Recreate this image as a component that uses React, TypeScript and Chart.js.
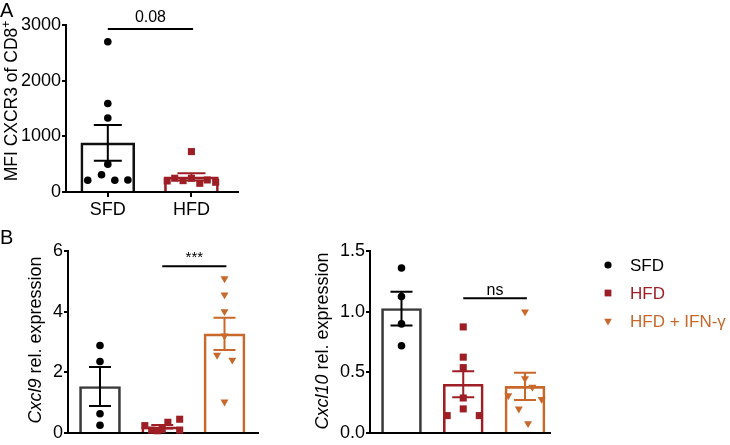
import React, { useEffect, useRef } from 'react';
import { Chart, registerables } from 'chart.js';

Chart.register(...registerables);

const W = 730;
const H = 445;
const FONT = "'Liberation Sans', Arial, Helvetica, sans-serif";

const C_SFD = '#000000';
const C_HFD = '#9d1f25';
const C_IFN = '#c8682b';

// ---------------- data ----------------
const groupNames = ['SFD', 'HFD', 'HFD + IFN-γ'];

// Panel A: MFI CXCR3 of CD8+
const mfiCategories = ['SFD', 'HFD'];
const mfiSFD = [2700, 1590, 1330, 500, 310, 210, 210, 215];
const mfiHFD = [726, 198, 247, 204, 247, 156, 216, 175];
const mfiTicks = [0, 1000, 2000, 3000];
const mfiP = '0.08';
const mfiPLevel = 2930;

// Panel B: Cxcl9 rel. expression
const cxcl9SFD = [2.89, 2.36, 0.64, 0.26];
const cxcl9HFD = [0.25, 0.1, 0.08, 0.12, 0.36, 0.46, 0.1];
const cxcl9IFN = [5.09, 4.56, 4.01, 3.21, 2.57, 2.41, 1.03];
const cxcl9Ticks = [0, 2, 4, 6];
const cxcl9Sig = '***';
const cxcl9SigLevel = 5.5;

// Panel B: Cxcl10 rel. expression
const cxcl10SFD = [1.36, 1.125, 0.9, 0.72];
const cxcl10HFD = [0.875, 0.626, 0.54, 0.29, 0.2, 0.145, 0.145];
const cxcl10IFN = [1.0, 0.45, 0.38, 0.31, 0.28, 0.2, 0.08];
const cxcl10Ticks = [0, 0.5, 1.0, 1.5];
const cxcl10Sig = 'ns';
const cxcl10SigLevel = 1.11;

// ---------------- layout (dot scatter offsets, in category units) ----------------
const jA_SFD = [0, 0, 0, 0, -0.075, -0.24, 0.084, 0.24];
const jA_HFD = [0, -0.29, -0.2, -0.1, 0, 0.1, 0.19, 0.29];
const j9_SFD = [0, 0, 0, 0];
const j9_HFD = [-0.28, -0.17, -0.08, 0, 0.09, 0.28, 0.28];
const j9_IFN = [0, 0, 0, 0, -0.12, 0.125, 0];
const j10_SFD = [0, 0, 0, 0];
const j10_HFD = [0, 0, 0, 0, 0, -0.26, 0.26];
const j10_IFN = [0, 0, 0.12, -0.27, 0.27, -0.1, 0.05];

type Shape = 'circle' | 'rect' | 'triangle';
interface Group { values: number[]; jitter: number[]; color: string; edge: string; shape: Shape; }
interface TitlePart { t: string; italic?: boolean; sup?: boolean; }
interface Panel {
  area: [number, number, number, number];
  xRange: [number, number];
  yTicks: number[];
  decimals: number;
  xLabels: string[] | null;
  groups: Group[];
  barPx: number;
  capPx: number;
  sig: { from: number; to: number; y: number; text: string; size: number; gap: number };
  title: { parts: TitlePart[]; x: number; y: number; size: number };
  label?: { t: string; x: number; y: number };
  legend?: boolean;
}

const mean = (a: number[]) => a.reduce((s, v) => s + v, 0) / a.length;
const sem = (a: number[]) => {
  const m = mean(a);
  const v = a.reduce((s, x) => s + (x - m) * (x - m), 0) / (a.length - 1);
  return Math.sqrt(v / a.length);
};

const radiusOf = (s: Shape) => (s === 'circle' ? 3.8 : s === 'rect' ? 5 : 4.6);

const panels: Panel[] = [
  {
    area: [66, 25, 238, 192],
    xRange: [-0.5, 1.557],
    yTicks: mfiTicks,
    decimals: 0,
    xLabels: mfiCategories,
    groups: [
      { values: mfiSFD, jitter: jA_SFD, color: C_SFD, edge: '#111111', shape: 'circle' },
      { values: mfiHFD, jitter: jA_HFD, color: C_HFD, edge: C_HFD, shape: 'rect' },
    ],
    barPx: 54,
    capPx: 14,
    sig: { from: 0, to: 1.02, y: mfiPLevel, text: mfiP, size: 16, gap: 7 },
    title: { parts: [{ t: 'MFI CXCR3 of CD8' }, { t: '+', sup: true }], x: 17, y: 101, size: 17.5 },
    label: { t: 'A', x: 0, y: 17 },
  },
  {
    area: [68, 251, 258, 439],
    xRange: [-0.514, 2.538],
    yTicks: cxcl9Ticks,
    decimals: 0,
    xLabels: null,
    groups: [
      { values: cxcl9SFD, jitter: j9_SFD, color: C_SFD, edge: '#3a3a3a', shape: 'circle' },
      { values: cxcl9HFD, jitter: j9_HFD, color: C_HFD, edge: C_HFD, shape: 'rect' },
      { values: cxcl9IFN, jitter: j9_IFN, color: C_IFN, edge: C_IFN, shape: 'triangle' },
    ],
    barPx: 41,
    capPx: 11,
    sig: { from: 1, to: 2.03, y: cxcl9SigLevel, text: cxcl9Sig, size: 15, gap: 4 },
    title: { parts: [{ t: 'Cxcl9', italic: true }, { t: ' rel. expression' }], x: 41, y: 340, size: 18 },
    label: { t: 'B', x: 0, y: 244 },
  },
  {
    area: [370, 251, 550, 437],
    xRange: [-0.51, 2.405],
    yTicks: cxcl10Ticks,
    decimals: 1,
    xLabels: null,
    groups: [
      { values: cxcl10SFD, jitter: j10_SFD, color: C_SFD, edge: '#3a3a3a', shape: 'circle' },
      { values: cxcl10HFD, jitter: j10_HFD, color: C_HFD, edge: C_HFD, shape: 'rect' },
      { values: cxcl10IFN, jitter: j10_IFN, color: C_IFN, edge: C_IFN, shape: 'triangle' },
    ],
    barPx: 40,
    capPx: 11,
    sig: { from: 1, to: 2.03, y: cxcl10SigLevel, text: cxcl10Sig, size: 16, gap: 3.5 },
    title: { parts: [{ t: 'Cxcl10', italic: true }, { t: ' rel. expression' }], x: 328, y: 341, size: 18 },
    legend: true,
  },
];

function drawMarker(ctx: CanvasRenderingContext2D, shape: Shape, x: number, y: number, color: string) {
  ctx.fillStyle = color;
  ctx.beginPath();
  if (shape === 'circle') {
    ctx.arc(x, y, 3.6, 0, Math.PI * 2);
  } else if (shape === 'rect') {
    ctx.rect(x - 3.4, y - 3.4, 6.8, 6.8);
  } else {
    const r = 4.4;
    ctx.moveTo(x - r * 0.866, y - r * 0.5);
    ctx.lineTo(x + r * 0.866, y - r * 0.5);
    ctx.lineTo(x, y + r);
    ctx.closePath();
  }
  ctx.fill();
}

function makeOverlay(p: Panel) {
  return {
    id: 'overlay',
    afterDatasetsDraw(chart: any) {
      const ctx: CanvasRenderingContext2D = chart.ctx;
      const xs = chart.scales.x;
      const ys = chart.scales.y;
      ctx.save();
      // error bars (mean ± SEM)
      p.groups.forEach((g, i) => {
        const m = mean(g.values);
        const s = sem(g.values);
        const cx = xs.getPixelForValue(i);
        const yT = ys.getPixelForValue(m + s);
        const yB = ys.getPixelForValue(Math.max(m - s, 0));
        ctx.strokeStyle = g.color;
        ctx.lineWidth = 2;
        ctx.beginPath();
        ctx.moveTo(cx, yT);
        ctx.lineTo(cx, yB);
        ctx.moveTo(cx - p.capPx, yT);
        ctx.lineTo(cx + p.capPx, yT);
        ctx.moveTo(cx - p.capPx, yB);
        ctx.lineTo(cx + p.capPx, yB);
        ctx.stroke();
      });
      // significance bracket
      const x1 = xs.getPixelForValue(p.sig.from);
      const x2 = xs.getPixelForValue(p.sig.to);
      const sy = ys.getPixelForValue(p.sig.y);
      ctx.strokeStyle = '#000';
      ctx.lineWidth = 2;
      ctx.beginPath();
      ctx.moveTo(x1, sy);
      ctx.lineTo(x2, sy);
      ctx.stroke();
      ctx.fillStyle = '#000';
      ctx.font = `${p.sig.size}px ${FONT}`;
      ctx.textAlign = 'center';
      ctx.textBaseline = 'alphabetic';
      ctx.fillText(p.sig.text, (x1 + x2) / 2, sy - p.sig.gap);

      // axis title (rotated)
      ctx.save();
      ctx.translate(p.title.x, p.title.y);
      ctx.rotate(-Math.PI / 2);
      ctx.textAlign = 'left';
      ctx.textBaseline = 'alphabetic';
      const fontOf = (part: TitlePart) =>
        `${part.italic ? 'italic ' : ''}${part.sup ? Math.round(p.title.size * 0.68) : p.title.size}px ${FONT}`;
      let total = 0;
      const widths = p.title.parts.map((part) => {
        ctx.font = fontOf(part);
        const w = ctx.measureText(part.t).width;
        total += w;
        return w;
      });
      let tx = -total / 2;
      p.title.parts.forEach((part, k) => {
        ctx.font = fontOf(part);
        ctx.fillText(part.t, tx, part.sup ? -7 : 0);
        tx += widths[k];
      });
      ctx.restore();

      // panel letter
      if (p.label) {
        ctx.font = `20px ${FONT}`;
        ctx.textAlign = 'left';
        ctx.textBaseline = 'alphabetic';
        ctx.fillStyle = '#000';
        ctx.fillText(p.label.t, p.label.x, p.label.y);
      }

      // legend
      if (p.legend) {
        const rows = [265, 293, 321];
        ctx.font = `17px ${FONT}`;
        ctx.textAlign = 'left';
        ctx.textBaseline = 'middle';
        p.groups.forEach((g, i) => {
          drawMarker(ctx, g.shape, 608, rows[i], g.color);
          ctx.fillStyle = g.color;
          ctx.fillText(groupNames[i], 630, rows[i] + 1);
        });
      }
      ctx.restore();
    },
  };
}

function buildConfig(p: Panel): any {
  const [L, T, R, B] = p.area;
  const tickFont = { family: FONT, size: 18 };
  const points = p.groups.map((g, i) => ({
    type: 'scatter',
    data: g.values.map((v, k) => ({ x: i + g.jitter[k], y: v })),
    pointStyle: g.shape,
    pointRadius: radiusOf(g.shape),
    pointHoverRadius: radiusOf(g.shape),
    pointRotation: g.shape === 'triangle' ? 180 : 0,
    backgroundColor: g.color,
    borderColor: g.color,
    borderWidth: 0,
    pointBorderWidth: 0,
    clip: false,
    order: 0,
  }));
  const bars = {
    type: 'bar',
    data: p.groups.map((g, i) => ({ x: i, y: mean(g.values) })),
    backgroundColor: 'rgba(255,255,255,0)',
    borderColor: p.groups.map((g) => g.edge),
    borderWidth: 2,
    borderSkipped: 'start',
    barThickness: p.barPx,
    order: 1,
  };
  const labels = p.xLabels;
  return {
    type: 'bar',
    data: { datasets: [...points, bars] },
    options: {
      responsive: false,
      animation: false,
      devicePixelRatio: 1,
      events: [],
      layout: { padding: { left: 0, top: T, right: W - R, bottom: 0 } },
      plugins: { legend: { display: false }, tooltip: { enabled: false }, title: { display: false } },
      scales: {
        x: {
          type: 'linear',
          min: p.xRange[0],
          max: p.xRange[1],
          offset: false,
          grid: {
            display: !!labels,
            offset: false,
            drawOnChartArea: false,
            drawTicks: true,
            tickLength: 5,
            color: '#000',
            lineWidth: 2,
          },
          border: { display: true, color: '#000', width: 2 },
          ticks: {
            display: !!labels,
            font: tickFont,
            color: '#000',
            padding: 2,
            autoSkip: false,
            maxRotation: 0,
            callback: (_v: any, i: number) => (labels ? labels[i] : ''),
          },
          afterBuildTicks: (s: any) => {
            s.ticks = p.groups.map((_g, i) => ({ value: i }));
          },
          afterFit: (s: any) => {
            s.height = H - B;
            s.paddingLeft = 0;
            s.paddingRight = 0;
          },
        },
        y: {
          type: 'linear',
          min: p.yTicks[0],
          max: p.yTicks[p.yTicks.length - 1],
          grid: {
            drawOnChartArea: false,
            drawTicks: true,
            tickLength: 4,
            color: '#000',
            lineWidth: 2,
          },
          border: { display: true, color: '#000', width: 2 },
          ticks: {
            font: tickFont,
            color: '#000',
            padding: 1,
            callback: (v: any) => Number(v).toFixed(p.decimals),
          },
          afterBuildTicks: (s: any) => {
            s.ticks = p.yTicks.map((v) => ({ value: v }));
          },
          afterFit: (s: any) => {
            s.width = L;
          },
        },
      },
    },
    plugins: [makeOverlay(p)],
  };
}

function PanelChart({ panel }: { panel: Panel }) {
  const ref = useRef<HTMLCanvasElement>(null);
  useEffect(() => {
    const chart = new Chart(ref.current as HTMLCanvasElement, buildConfig(panel));
    return () => chart.destroy();
  }, [panel]);
  return (
    <canvas
      ref={ref}
      width={W}
      height={H}
      style={{ position: 'absolute', left: 0, top: 0, width: W, height: H }}
    />
  );
}

export default function App() {
  return (
    <div style={{ position: 'absolute', left: 0, top: 0, width: W, height: H, background: '#fff', overflow: 'hidden' }}>
      {panels.map((p, i) => (
        <PanelChart key={i} panel={p} />
      ))}
    </div>
  );
}
